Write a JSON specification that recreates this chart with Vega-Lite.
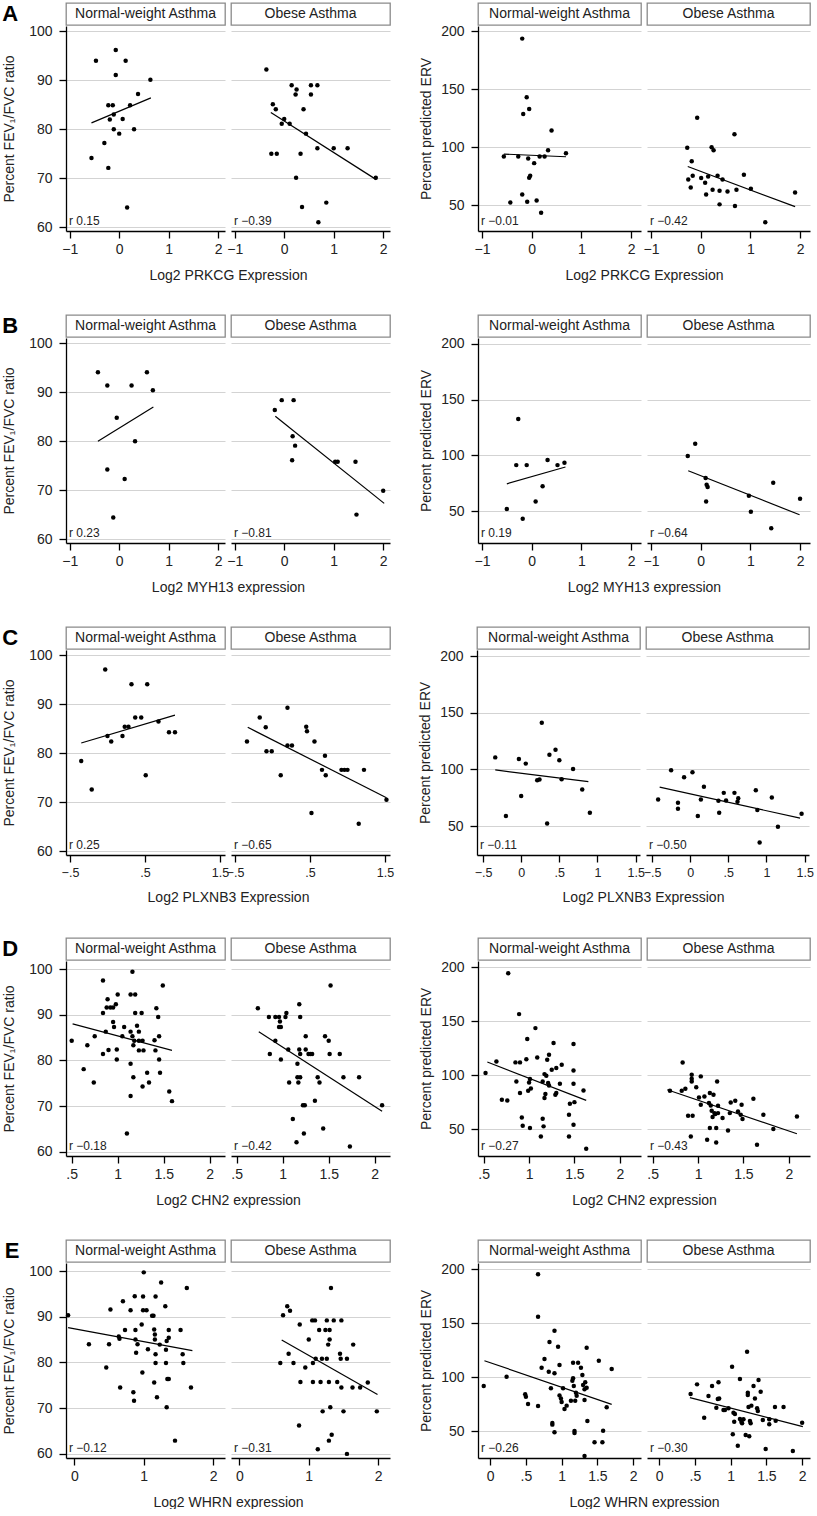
{
"$schema":"https://vega.github.io/schema/vega-lite/v6.json",
"padding":{"left":1,"top":2,"right":0,"bottom":0},
"config":{"font":"Liberation Sans","view":{"stroke":null},
 "circle":{"size":20,"color":"#000","opacity":1},
 "axis":{"labelFontSize":14,"titleFontSize":14,"titleFontWeight":"normal","labelColor":"#222","titleColor":"#222","domainColor":"#000","tickColor":"#000","domainWidth":1.3,"tickWidth":1.3,"tickSize":7,"gridColor":"#d3d3d3","gridWidth":1,"labelFlush":false,"labelOverlap":false},
 "axisX":{"grid":false,"labelPadding":4,"titlePadding":12},
 "axisY":{"grid":true,"labelPadding":7}},
"datasets":{
"hdrN":[{"label":"Normal-weight Asthma"}],
"hdrO":[{"label":"Obese Asthma"}],
"A1n":[{"x":-0.56,"y":74.1},{"x":-0.47,"y":94},{"x":-0.3,"y":77.2},{"x":-0.22,"y":84.9},{"x":-0.22,"y":72.1},{"x":-0.19,"y":82},{"x":-0.13,"y":84.9},{"x":-0.11,"y":83},{"x":-0.11,"y":80},{"x":-0.07,"y":96.2},{"x":-0.07,"y":91.1},{"x":0,"y":79.1},{"x":0.07,"y":82.1},{"x":0.13,"y":94},{"x":0.16,"y":64},{"x":0.22,"y":84.9},{"x":0.3,"y":80},{"x":0.38,"y":87.2},{"x":0.63,"y":90.1}],
"A1n_fit":[{"x":-0.56,"y":81.3},{"x":0.64,"y":86.4}],
"A1o":[{"x":-0.36,"y":92.2},{"x":-0.23,"y":85.1},{"x":-0.17,"y":84.1},{"x":-0.26,"y":75},{"x":-0.15,"y":75},{"x":0,"y":82.1},{"x":-0.05,"y":81.1},{"x":0.11,"y":81.1},{"x":0.15,"y":89},{"x":0.25,"y":88.1},{"x":0.23,"y":87.1},{"x":0.24,"y":70.1},{"x":0.33,"y":75},{"x":0.36,"y":64.1},{"x":0.39,"y":84.1},{"x":0.44,"y":79.1},{"x":0.54,"y":89},{"x":0.54,"y":87.1},{"x":0.67,"y":89},{"x":0.67,"y":76.1},{"x":0.69,"y":61},{"x":0.85,"y":65},{"x":1.0,"y":76.1},{"x":1.28,"y":76.1},{"x":1.85,"y":70.1}],
"A1o_fit":[{"x":-0.27,"y":83.4},{"x":1.86,"y":69.7}],
"A2n":[{"x":-0.56,"y":92},{"x":-0.43,"y":52.3},{"x":-0.27,"y":92},{"x":-0.19,"y":59.2},{"x":-0.19,"y":193.7},{"x":-0.17,"y":128.7},{"x":-0.1,"y":143.1},{"x":-0.09,"y":52.9},{"x":-0.07,"y":90.2},{"x":-0.05,"y":133},{"x":-0.05,"y":73.6},{"x":-0.03,"y":75.3},{"x":0.05,"y":86.2},{"x":0.1,"y":54},{"x":0.16,"y":92},{"x":0.19,"y":43.4},{"x":0.26,"y":92},{"x":0.33,"y":97.4},{"x":0.4,"y":114.4},{"x":0.69,"y":94.8}],
"A2n_fit":[{"x":-0.56,"y":94},{"x":0.69,"y":91.7}],
"A2o":[{"x":-0.27,"y":99.4},{"x":-0.25,"y":72.1},{"x":-0.2,"y":65.2},{"x":-0.18,"y":87.9},{"x":-0.16,"y":75.3},{"x":-0.07,"y":125.3},{"x":0.01,"y":73.3},{"x":0.09,"y":69.3},{"x":0.11,"y":59.2},{"x":0.15,"y":74.7},{"x":0.22,"y":100},{"x":0.24,"y":63.2},{"x":0.26,"y":97.4},{"x":0.34,"y":75.3},{"x":0.38,"y":62.4},{"x":0.38,"y":50.6},{"x":0.44,"y":72.1},{"x":0.54,"y":61.8},{"x":0.68,"y":111.2},{"x":0.69,"y":49.1},{"x":0.72,"y":63.2},{"x":0.87,"y":76.1},{"x":1.01,"y":64.1},{"x":1.3,"y":35.1},{"x":1.9,"y":60.9}],
"A2o_fit":[{"x":-0.26,"y":83.3},{"x":1.9,"y":48.6}],
"B1n":[{"x":-0.43,"y":94.1},{"x":-0.24,"y":91.4},{"x":-0.24,"y":74.2},{"x":-0.05,"y":84.8},{"x":0.25,"y":91.4},{"x":0.11,"y":72.3},{"x":0.32,"y":80},{"x":0.56,"y":94.1},{"x":0.68,"y":90.4},{"x":-0.12,"y":64.4}],
"B1n_fit":[{"x":-0.43,"y":80},{"x":0.69,"y":87}],
"B1o":[{"x":-0.19,"y":86.4},{"x":-0.05,"y":88.4},{"x":0.19,"y":88.4},{"x":0.17,"y":81},{"x":0.22,"y":79.1},{"x":0.16,"y":76.1},{"x":1.03,"y":75.8},{"x":1.08,"y":75.8},{"x":1.44,"y":75.8},{"x":2.0,"y":69.9},{"x":1.46,"y":65}],
"B1o_fit":[{"x":-0.18,"y":85.1},{"x":2.02,"y":67.3}],
"B2n":[{"x":-0.5,"y":52.1},{"x":-0.31,"y":91.4},{"x":-0.27,"y":132.6},{"x":-0.18,"y":43.4},{"x":-0.1,"y":91.4},{"x":0.08,"y":58.9},{"x":0.22,"y":72.6},{"x":0.32,"y":95.9},{"x":0.52,"y":91.4},{"x":0.66,"y":93.5}],
"B2n_fit":[{"x":-0.5,"y":74.7},{"x":0.68,"y":89.7}],
"B2o":[{"x":-0.26,"y":99.5},{"x":-0.11,"y":110.5},{"x":0.1,"y":79.8},{"x":0.12,"y":73.8},{"x":0.14,"y":71.8},{"x":0.11,"y":58.9},{"x":0.97,"y":64},{"x":1.01,"y":49.7},{"x":1.46,"y":75.6},{"x":1.42,"y":35},{"x":2.0,"y":61.3}],
"B2o_fit":[{"x":-0.25,"y":86.4},{"x":1.99,"y":47}],
"C1n":[{"x":-0.35,"y":78.4},{"x":-0.21,"y":72.6},{"x":-0.03,"y":97.1},{"x":0,"y":83.5},{"x":0.05,"y":82.4},{"x":0.2,"y":83.5},{"x":0.23,"y":85.4},{"x":0.28,"y":85.4},{"x":0.32,"y":94.1},{"x":0.37,"y":87.3},{"x":0.45,"y":87.3},{"x":0.51,"y":75.5},{"x":0.53,"y":94.1},{"x":0.68,"y":86.5},{"x":0.82,"y":84.3},{"x":0.9,"y":84.3}],
"C1n_fit":[{"x":-0.35,"y":82.1},{"x":0.9,"y":87.8}],
"C1o":[{"x":-0.34,"y":82.4},{"x":-0.17,"y":87.3},{"x":-0.09,"y":85.3},{"x":-0.08,"y":80.4},{"x":-0.01,"y":80.4},{"x":0.11,"y":75.5},{"x":0.2,"y":89.3},{"x":0.2,"y":81.6},{"x":0.26,"y":81.6},{"x":0.45,"y":85.4},{"x":0.46,"y":84.5},{"x":0.52,"y":67.8},{"x":0.56,"y":82.4},{"x":0.66,"y":76.6},{"x":0.7,"y":79.5},{"x":0.71,"y":75.5},{"x":0.92,"y":76.6},{"x":0.96,"y":76.6},{"x":1.0,"y":76.6},{"x":1.15,"y":65.6},{"x":1.22,"y":76.6},{"x":1.52,"y":70.5}],
"C1o_fit":[{"x":-0.33,"y":85.3},{"x":1.52,"y":70.9}],
"C2n":[{"x":-0.34,"y":110.6},{"x":-0.2,"y":58.8},{"x":-0.03,"y":109.2},{"x":0,"y":76.6},{"x":0.06,"y":105.1},{"x":0.21,"y":90.4},{"x":0.24,"y":91},{"x":0.27,"y":141.1},{"x":0.34,"y":52.3},{"x":0.37,"y":113},{"x":0.45,"y":117.4},{"x":0.5,"y":108},{"x":0.53,"y":91.3},{"x":0.68,"y":100.4},{"x":0.8,"y":82.2},{"x":0.9,"y":61.7}],
"C2n_fit":[{"x":-0.34,"y":99.5},{"x":0.88,"y":89.2}],
"C2o":[{"x":-0.42,"y":73.4},{"x":-0.25,"y":99.2},{"x":-0.16,"y":70.5},{"x":-0.16,"y":65.2},{"x":-0.08,"y":93.1},{"x":0.03,"y":97.5},{"x":0.1,"y":58.8},{"x":0.14,"y":73.4},{"x":0.18,"y":84.6},{"x":0.37,"y":72.3},{"x":0.38,"y":61.7},{"x":0.44,"y":79.3},{"x":0.47,"y":72.5},{"x":0.58,"y":79.3},{"x":0.62,"y":71.4},{"x":0.63,"y":74.6},{"x":0.86,"y":81.6},{"x":0.88,"y":64.1},{"x":1.07,"y":75.2},{"x":1.15,"y":49.4},{"x":1.46,"y":60.8},{"x":0.91,"y":35.6}],
"C2o_fit":[{"x":-0.4,"y":84.3},{"x":1.44,"y":57}],
"D1n":[{"x":0.5,"y":84.3},{"x":0.63,"y":78.1},{"x":0.67,"y":83.3},{"x":0.74,"y":75.2},{"x":0.75,"y":85.3},{"x":0.84,"y":97.5},{"x":0.84,"y":90.4},{"x":0.84,"y":81.4},{"x":0.87,"y":86.3},{"x":0.88,"y":91.6},{"x":0.89,"y":93.4},{"x":0.9,"y":82.3},{"x":0.92,"y":91.6},{"x":0.95,"y":91.6},{"x":0.95,"y":88.4},{"x":0.96,"y":87.3},{"x":0.98,"y":92.3},{"x":0.99,"y":82.4},{"x":0.99,"y":80.2},{"x":1.0,"y":94.4},{"x":1.05,"y":85.3},{"x":1.07,"y":87.3},{"x":1.1,"y":64},{"x":1.14,"y":72.2},{"x":1.14,"y":79.3},{"x":1.14,"y":86.3},{"x":1.16,"y":99.4},{"x":1.14,"y":94.4},{"x":1.16,"y":85.3},{"x":1.17,"y":83.3},{"x":1.17,"y":76.3},{"x":1.18,"y":84.3},{"x":1.19,"y":94.4},{"x":1.19,"y":90.4},{"x":1.21,"y":87.6},{"x":1.23,"y":86.3},{"x":1.23,"y":84.3},{"x":1.23,"y":82.2},{"x":1.26,"y":90.4},{"x":1.27,"y":84.3},{"x":1.27,"y":74.3},{"x":1.28,"y":82.2},{"x":1.32,"y":77.3},{"x":1.34,"y":75.2},{"x":1.4,"y":84.4},{"x":1.41,"y":82.2},{"x":1.42,"y":91.4},{"x":1.44,"y":89.5},{"x":1.45,"y":85.3},{"x":1.45,"y":80.2},{"x":1.46,"y":77.3},{"x":1.49,"y":96.4},{"x":1.56,"y":73.2},{"x":1.59,"y":71.1}],
"D1n_fit":[{"x":0.51,"y":88},{"x":1.59,"y":82.2}],
"D1o":[{"x":0.73,"y":91.4},{"x":0.85,"y":89.5},{"x":0.86,"y":81.4},{"x":0.92,"y":84.3},{"x":0.92,"y":89.5},{"x":0.96,"y":89.5},{"x":0.96,"y":87.3},{"x":0.97,"y":88.5},{"x":0.98,"y":87.3},{"x":0.98,"y":80.2},{"x":1.03,"y":89.5},{"x":1.04,"y":90.4},{"x":1.06,"y":82.4},{"x":1.07,"y":75.2},{"x":1.11,"y":67.2},{"x":1.15,"y":62.1},{"x":1.16,"y":79.3},{"x":1.16,"y":76.3},{"x":1.17,"y":75.2},{"x":1.18,"y":82.4},{"x":1.18,"y":92.3},{"x":1.19,"y":89.5},{"x":1.19,"y":81.4},{"x":1.19,"y":76.3},{"x":1.22,"y":70.2},{"x":1.23,"y":64},{"x":1.24,"y":70.2},{"x":1.25,"y":82.4},{"x":1.25,"y":85.3},{"x":1.28,"y":81.4},{"x":1.3,"y":81.4},{"x":1.32,"y":81.4},{"x":1.35,"y":71.2},{"x":1.38,"y":76.3},{"x":1.4,"y":75.2},{"x":1.44,"y":65.1},{"x":1.46,"y":85.3},{"x":1.5,"y":84.3},{"x":1.51,"y":81.4},{"x":1.52,"y":96.4},{"x":1.62,"y":81.4},{"x":1.66,"y":76.3},{"x":1.73,"y":61.2},{"x":1.83,"y":76.3},{"x":2.08,"y":70.2}],
"D1o_fit":[{"x":0.74,"y":86.3},{"x":2.08,"y":68.9}],
"D2n":[{"x":0.52,"y":102},{"x":0.64,"y":112.8},{"x":0.7,"y":77.2},{"x":0.76,"y":76.6},{"x":0.77,"y":194.7},{"x":0.85,"y":111.9},{"x":0.86,"y":94.2},{"x":0.89,"y":156.7},{"x":0.9,"y":111.9},{"x":0.9,"y":83.4},{"x":0.92,"y":60.8},{"x":0.93,"y":53.1},{"x":0.97,"y":114.9},{"x":0.98,"y":133.5},{"x":0.99,"y":85.6},{"x":1.0,"y":93.3},{"x":1.01,"y":96.4},{"x":1.01,"y":50.9},{"x":1.02,"y":87.7},{"x":1.07,"y":143.7},{"x":1.09,"y":116.5},{"x":1.13,"y":43.2},{"x":1.15,"y":94.2},{"x":1.15,"y":59.6},{"x":1.16,"y":52.5},{"x":1.17,"y":78.8},{"x":1.17,"y":101},{"x":1.18,"y":82.5},{"x":1.19,"y":99.5},{"x":1.2,"y":114.3},{"x":1.21,"y":92.7},{"x":1.22,"y":119},{"x":1.22,"y":90.5},{"x":1.25,"y":105},{"x":1.27,"y":129.8},{"x":1.29,"y":81.8},{"x":1.3,"y":83.4},{"x":1.3,"y":106.6},{"x":1.34,"y":92.1},{"x":1.36,"y":109.7},{"x":1.44,"y":63.3},{"x":1.44,"y":43.2},{"x":1.45,"y":73.5},{"x":1.49,"y":92.1},{"x":1.49,"y":104.4},{"x":1.49,"y":54},{"x":1.49,"y":128.9},{"x":1.5,"y":75},{"x":1.6,"y":85.9},{"x":1.63,"y":31.7}],
"D2n_fit":[{"x":0.54,"y":112.2},{"x":1.63,"y":76.6}],
"D2o":[{"x":0.69,"y":85.6},{"x":0.83,"y":111.8},{"x":0.82,"y":85.6},{"x":0.86,"y":87.4},{"x":0.89,"y":62.4},{"x":0.94,"y":62.4},{"x":0.92,"y":43.2},{"x":0.93,"y":100.4},{"x":0.93,"y":96.7},{"x":0.93,"y":94.2},{"x":0.98,"y":88.9},{"x":1.01,"y":79.4},{"x":1.03,"y":98.9},{"x":1.03,"y":72.6},{"x":1.07,"y":80.3},{"x":1.1,"y":40.1},{"x":1.12,"y":74.1},{"x":1.13,"y":83.4},{"x":1.13,"y":50.9},{"x":1.14,"y":71.9},{"x":1.15,"y":67},{"x":1.16,"y":61.1},{"x":1.17,"y":81.8},{"x":1.18,"y":64.8},{"x":1.19,"y":63.9},{"x":1.2,"y":50.9},{"x":1.2,"y":37.6},{"x":1.21,"y":94.2},{"x":1.22,"y":71.6},{"x":1.22,"y":64.8},{"x":1.27,"y":60.2},{"x":1.33,"y":48.7},{"x":1.35,"y":64.8},{"x":1.36,"y":74.7},{"x":1.41,"y":76.3},{"x":1.44,"y":66.4},{"x":1.47,"y":63.3},{"x":1.49,"y":59.3},{"x":1.48,"y":72.6},{"x":1.61,"y":78.1},{"x":1.65,"y":35.4},{"x":1.72,"y":63.3},{"x":1.83,"y":50},{"x":2.09,"y":61.7}],
"D2o_fit":[{"x":0.66,"y":86.5},{"x":2.09,"y":45.7}],
"E1n":[{"x":-0.09,"y":90.3},{"x":0.21,"y":84},{"x":0.46,"y":78.9},{"x":0.5,"y":84},{"x":0.52,"y":91.6},{"x":0.64,"y":85.7},{"x":0.65,"y":85.2},{"x":0.66,"y":74.5},{"x":0.7,"y":93.4},{"x":0.73,"y":87.1},{"x":0.81,"y":91.4},{"x":0.85,"y":73.5},{"x":0.86,"y":71.6},{"x":0.87,"y":94.5},{"x":0.88,"y":87.1},{"x":0.88,"y":85},{"x":0.89,"y":82.1},{"x":0.91,"y":84},{"x":0.97,"y":88.3},{"x":0.98,"y":77.8},{"x":0.99,"y":94.4},{"x":0.99,"y":91.4},{"x":1.0,"y":99.7},{"x":1.04,"y":91.4},{"x":1.06,"y":82.9},{"x":1.12,"y":90.2},{"x":1.14,"y":90.2},{"x":1.15,"y":87.2},{"x":1.16,"y":86.1},{"x":1.16,"y":85},{"x":1.17,"y":81.8},{"x":1.17,"y":79.9},{"x":1.17,"y":94.4},{"x":1.15,"y":75.6},{"x":1.19,"y":72.4},{"x":1.23,"y":83.9},{"x":1.25,"y":97.5},{"x":1.31,"y":92.3},{"x":1.32,"y":82.8},{"x":1.32,"y":79.9},{"x":1.33,"y":70.2},{"x":1.33,"y":84.7},{"x":1.34,"y":76.4},{"x":1.36,"y":85.4},{"x":1.36,"y":87.1},{"x":1.36,"y":76.4},{"x":1.45,"y":62.9},{"x":1.53,"y":87.1},{"x":1.56,"y":81.8},{"x":1.57,"y":79.9},{"x":1.62,"y":96.3},{"x":1.68,"y":74.5}],
"E1n_fit":[{"x":-0.09,"y":87.6},{"x":1.7,"y":82.6}],
"E1o":[{"x":0.59,"y":79.9},{"x":0.63,"y":90.3},{"x":0.69,"y":92.3},{"x":0.73,"y":91.3},{"x":0.71,"y":81.9},{"x":0.78,"y":79.9},{"x":0.87,"y":88.3},{"x":0.88,"y":75.7},{"x":0.86,"y":66.2},{"x":0.95,"y":78.9},{"x":1.0,"y":85},{"x":1.05,"y":89.2},{"x":1.09,"y":89.2},{"x":1.06,"y":79.9},{"x":1.06,"y":75.7},{"x":1.1,"y":80.8},{"x":1.13,"y":61},{"x":1.15,"y":87.1},{"x":1.17,"y":75.7},{"x":1.19,"y":80.8},{"x":1.2,"y":69.3},{"x":1.24,"y":87.1},{"x":1.26,"y":89.2},{"x":1.26,"y":80.8},{"x":1.28,"y":83.9},{"x":1.29,"y":75.7},{"x":1.3,"y":85},{"x":1.3,"y":87.1},{"x":1.29,"y":62.9},{"x":1.31,"y":70.2},{"x":1.33,"y":64.2},{"x":1.32,"y":96.3},{"x":1.36,"y":89.2},{"x":1.41,"y":75.7},{"x":1.45,"y":81.9},{"x":1.46,"y":80.8},{"x":1.47,"y":89.2},{"x":1.47,"y":74.5},{"x":1.5,"y":69.3},{"x":1.55,"y":80.8},{"x":1.55,"y":60},{"x":1.64,"y":83.9},{"x":1.63,"y":74.5},{"x":1.74,"y":74.5},{"x":1.85,"y":75.6},{"x":1.98,"y":69.3}],
"E1o_fit":[{"x":0.61,"y":84.9},{"x":1.99,"y":73}],
"E2n":[{"x":-0.09,"y":91.7},{"x":0.23,"y":100.3},{"x":0.49,"y":84},{"x":0.5,"y":81.8},{"x":0.53,"y":75},{"x":0.67,"y":73.1},{"x":0.67,"y":195.1},{"x":0.67,"y":155.9},{"x":0.72,"y":108.6},{"x":0.76,"y":116.7},{"x":0.82,"y":104.9},{"x":0.83,"y":132.4},{"x":0.85,"y":89.5},{"x":0.87,"y":57.4},{"x":0.87,"y":55.9},{"x":0.9,"y":103.4},{"x":0.9,"y":142.9},{"x":0.9,"y":48.8},{"x":0.95,"y":128.1},{"x":0.97,"y":111.1},{"x":0.97,"y":83},{"x":0.99,"y":80.2},{"x":1.0,"y":76.9},{"x":1.02,"y":89.5},{"x":1.04,"y":70.4},{"x":1.07,"y":73.5},{"x":1.13,"y":78.1},{"x":1.15,"y":96.6},{"x":1.16,"y":98.8},{"x":1.16,"y":113.3},{"x":1.17,"y":91.7},{"x":1.18,"y":50},{"x":1.18,"y":48.1},{"x":1.19,"y":78.1},{"x":1.2,"y":85.5},{"x":1.21,"y":82.7},{"x":1.23,"y":113.3},{"x":1.27,"y":108.6},{"x":1.29,"y":101.9},{"x":1.3,"y":92.6},{"x":1.32,"y":78.7},{"x":1.32,"y":88.6},{"x":1.33,"y":95.1},{"x":1.32,"y":26.9},{"x":1.35,"y":90.1},{"x":1.35,"y":127.2},{"x":1.36,"y":59.3},{"x":1.46,"y":39.5},{"x":1.52,"y":115.1},{"x":1.58,"y":50.3},{"x":1.57,"y":39.5},{"x":1.63,"y":71.9},{"x":1.7,"y":107.4}],
"E2n_fit":[{"x":-0.08,"y":115.1},{"x":1.7,"y":74.7}],
"E2o":[{"x":0.53,"y":93.2},{"x":0.44,"y":84.3},{"x":0.63,"y":62.3},{"x":0.69,"y":82.4},{"x":0.74,"y":91.7},{"x":0.83,"y":95.1},{"x":0.82,"y":79.6},{"x":0.84,"y":80.2},{"x":0.8,"y":71.6},{"x":0.9,"y":69.4},{"x":0.92,"y":69.4},{"x":0.97,"y":71},{"x":1.02,"y":109.6},{"x":1.03,"y":46.9},{"x":1.04,"y":67},{"x":1.05,"y":58.6},{"x":1.06,"y":65.7},{"x":1.1,"y":36.4},{"x":1.13,"y":98.1},{"x":1.13,"y":61.1},{"x":1.15,"y":58.6},{"x":1.16,"y":57.1},{"x":1.18,"y":60.8},{"x":1.21,"y":46.3},{"x":1.23,"y":123.5},{"x":1.24,"y":85.5},{"x":1.24,"y":83.3},{"x":1.25,"y":72.2},{"x":1.26,"y":45.1},{"x":1.27,"y":59.3},{"x":1.28,"y":57.1},{"x":1.29,"y":73.5},{"x":1.32,"y":91.7},{"x":1.34,"y":80.2},{"x":1.37,"y":71},{"x":1.38,"y":68.5},{"x":1.39,"y":97.2},{"x":1.42,"y":86.4},{"x":1.45,"y":60.2},{"x":1.49,"y":33.3},{"x":1.54,"y":60.8},{"x":1.54,"y":56.2},{"x":1.62,"y":72.2},{"x":1.63,"y":59.6},{"x":1.74,"y":72.2},{"x":1.87,"y":31.5},{"x":2.0,"y":57.7}],
"E2o_fit":[{"x":0.43,"y":80.9},{"x":2.01,"y":54}]
},
"vconcat":[
{"hconcat":[
 {"columns":2,"bounds":"flush","align":"each","spacing":{"row":1,"column":6},"concat":[
  {"width":159,"height":22,"view":{"stroke":"#8a8a8a","strokeWidth":1.3},"title":{"text":"A","orient":"left","angle":0,"fontSize":22,"fontWeight":"bold","offset":32,"anchor":"middle","align":"right","baseline":"middle","color":"#000"},"data":{"name":"hdrN"},"mark":{"type":"text","fontSize":14,"color":"#222"},"encoding":{"text":{"field":"label"}}},
  {"width":159,"height":22,"view":{"stroke":"#8a8a8a","strokeWidth":1.3},"data":{"name":"hdrO"},"mark":{"type":"text","fontSize":14,"color":"#222"},"encoding":{"text":{"field":"label"}}},
  {"width":159,"height":205,"layer":[
   {"data":{"name":"A1n"},"mark":"circle","encoding":{"x":{"field":"x","type":"quantitative","scale":{"domain":[-1.075,2.137],"nice":false,"zero":false},"axis":{"values":[-1,0,1,2],"format":"~g","labelExpr":"replace(datum.label,'0.','.')","title":"Log2 PRKCG Expression","titleX":162}},"y":{"field":"y","type":"quantitative","scale":{"domain":[59.2,101.1],"nice":false,"zero":false},"axis":{"values":[60,70,80,90,100],"title":"Percent FEV₁/FVC ratio","titlePadding":12}}}},
   {"data":{"name":"A1n_fit"},"mark":{"type":"line","color":"#000","strokeWidth":1.2},"encoding":{"x":{"field":"x","type":"quantitative"},"y":{"field":"y","type":"quantitative"}}},
   {"data":{"values":[{"r":"r 0.15"}]},"mark":{"type":"text","align":"left","baseline":"alphabetic","fontSize":12,"dx":3,"dy":-6,"color":"#222"},"encoding":{"x":{"datum":-1.075,"type":"quantitative"},"y":{"datum":59.2,"type":"quantitative"},"text":{"field":"r"}}}]},
  {"width":159,"height":205,"layer":[
   {"data":{"name":"A1o"},"mark":"circle","encoding":{"x":{"field":"x","type":"quantitative","scale":{"domain":[-1.075,2.137],"nice":false,"zero":false},"axis":{"values":[-1,0,1,2],"format":"~g","labelExpr":"replace(datum.label,'0.','.')","title":null}},"y":{"field":"y","type":"quantitative","scale":{"domain":[59.2,101.1],"nice":false,"zero":false},"axis":{"values":[60,70,80,90,100],"labels":false,"ticks":false,"domain":false,"title":null}}}},
   {"data":{"name":"A1o_fit"},"mark":{"type":"line","color":"#000","strokeWidth":1.2},"encoding":{"x":{"field":"x","type":"quantitative"},"y":{"field":"y","type":"quantitative"}}},
   {"data":{"values":[{"r":"r −0.39"}]},"mark":{"type":"text","align":"left","baseline":"alphabetic","fontSize":12,"dx":3,"dy":-6,"color":"#222"},"encoding":{"x":{"datum":-1.075,"type":"quantitative"},"y":{"datum":59.2,"type":"quantitative"},"text":{"field":"r"}}}]}
 ]},
 {"columns":2,"bounds":"flush","align":"each","spacing":{"row":1,"column":6},"concat":[
  {"width":163,"height":22,"view":{"stroke":"#8a8a8a","strokeWidth":1.3},"data":{"name":"hdrN"},"mark":{"type":"text","fontSize":14,"color":"#222"},"encoding":{"text":{"field":"label"}}},
  {"width":163,"height":22,"view":{"stroke":"#8a8a8a","strokeWidth":1.3},"data":{"name":"hdrO"},"mark":{"type":"text","fontSize":14,"color":"#222"},"encoding":{"text":{"field":"label"}}},
  {"width":163,"height":205,"layer":[
   {"data":{"name":"A2n"},"mark":"circle","encoding":{"x":{"field":"x","type":"quantitative","scale":{"domain":[-1.08,2.2],"nice":false,"zero":false},"axis":{"values":[-1,0,1,2],"format":"~g","labelExpr":"replace(datum.label,'0.','.')","title":"Log2 PRKCG Expression","titleX":166}},"y":{"field":"y","type":"quantitative","scale":{"domain":[27.6,204.6],"nice":false,"zero":false},"axis":{"values":[50,100,150,200],"title":"Percent predicted ERV","titlePadding":7}}}},
   {"data":{"name":"A2n_fit"},"mark":{"type":"line","color":"#000","strokeWidth":1.2},"encoding":{"x":{"field":"x","type":"quantitative"},"y":{"field":"y","type":"quantitative"}}},
   {"data":{"values":[{"r":"r −0.01"}]},"mark":{"type":"text","align":"left","baseline":"alphabetic","fontSize":12,"dx":3,"dy":-6,"color":"#222"},"encoding":{"x":{"datum":-1.08,"type":"quantitative"},"y":{"datum":27.6,"type":"quantitative"},"text":{"field":"r"}}}]},
  {"width":163,"height":205,"layer":[
   {"data":{"name":"A2o"},"mark":"circle","encoding":{"x":{"field":"x","type":"quantitative","scale":{"domain":[-1.08,2.2],"nice":false,"zero":false},"axis":{"values":[-1,0,1,2],"format":"~g","labelExpr":"replace(datum.label,'0.','.')","title":null}},"y":{"field":"y","type":"quantitative","scale":{"domain":[27.6,204.6],"nice":false,"zero":false},"axis":{"values":[50,100,150,200],"labels":false,"ticks":false,"domain":false,"title":null}}}},
   {"data":{"name":"A2o_fit"},"mark":{"type":"line","color":"#000","strokeWidth":1.2},"encoding":{"x":{"field":"x","type":"quantitative"},"y":{"field":"y","type":"quantitative"}}},
   {"data":{"values":[{"r":"r −0.42"}]},"mark":{"type":"text","align":"left","baseline":"alphabetic","fontSize":12,"dx":3,"dy":-6,"color":"#222"},"encoding":{"x":{"datum":-1.08,"type":"quantitative"},"y":{"datum":27.6,"type":"quantitative"},"text":{"field":"r"}}}]}
 ]}
],"spacing":28},
{"hconcat":[
 {"columns":2,"bounds":"flush","align":"each","spacing":{"row":1,"column":6},"concat":[
  {"width":159,"height":22,"view":{"stroke":"#8a8a8a","strokeWidth":1.3},"title":{"text":"B","orient":"left","angle":0,"fontSize":22,"fontWeight":"bold","offset":32,"anchor":"middle","align":"right","baseline":"middle","color":"#000"},"data":{"name":"hdrN"},"mark":{"type":"text","fontSize":14,"color":"#222"},"encoding":{"text":{"field":"label"}}},
  {"width":159,"height":22,"view":{"stroke":"#8a8a8a","strokeWidth":1.3},"data":{"name":"hdrO"},"mark":{"type":"text","fontSize":14,"color":"#222"},"encoding":{"text":{"field":"label"}}},
  {"width":159,"height":205,"layer":[
   {"data":{"name":"B1n"},"mark":"circle","encoding":{"x":{"field":"x","type":"quantitative","scale":{"domain":[-1.075,2.137],"nice":false,"zero":false},"axis":{"values":[-1,0,1,2],"format":"~g","labelExpr":"replace(datum.label,'0.','.')","title":"Log2 MYH13 expression","titleX":162}},"y":{"field":"y","type":"quantitative","scale":{"domain":[59.2,101.1],"nice":false,"zero":false},"axis":{"values":[60,70,80,90,100],"title":"Percent FEV₁/FVC ratio","titlePadding":12}}}},
   {"data":{"name":"B1n_fit"},"mark":{"type":"line","color":"#000","strokeWidth":1.2},"encoding":{"x":{"field":"x","type":"quantitative"},"y":{"field":"y","type":"quantitative"}}},
   {"data":{"values":[{"r":"r 0.23"}]},"mark":{"type":"text","align":"left","baseline":"alphabetic","fontSize":12,"dx":3,"dy":-6,"color":"#222"},"encoding":{"x":{"datum":-1.075,"type":"quantitative"},"y":{"datum":59.2,"type":"quantitative"},"text":{"field":"r"}}}]},
  {"width":159,"height":205,"layer":[
   {"data":{"name":"B1o"},"mark":"circle","encoding":{"x":{"field":"x","type":"quantitative","scale":{"domain":[-1.075,2.137],"nice":false,"zero":false},"axis":{"values":[-1,0,1,2],"format":"~g","labelExpr":"replace(datum.label,'0.','.')","title":null}},"y":{"field":"y","type":"quantitative","scale":{"domain":[59.2,101.1],"nice":false,"zero":false},"axis":{"values":[60,70,80,90,100],"labels":false,"ticks":false,"domain":false,"title":null}}}},
   {"data":{"name":"B1o_fit"},"mark":{"type":"line","color":"#000","strokeWidth":1.2},"encoding":{"x":{"field":"x","type":"quantitative"},"y":{"field":"y","type":"quantitative"}}},
   {"data":{"values":[{"r":"r −0.81"}]},"mark":{"type":"text","align":"left","baseline":"alphabetic","fontSize":12,"dx":3,"dy":-6,"color":"#222"},"encoding":{"x":{"datum":-1.075,"type":"quantitative"},"y":{"datum":59.2,"type":"quantitative"},"text":{"field":"r"}}}]}
 ]},
 {"columns":2,"bounds":"flush","align":"each","spacing":{"row":1,"column":6},"concat":[
  {"width":163,"height":22,"view":{"stroke":"#8a8a8a","strokeWidth":1.3},"data":{"name":"hdrN"},"mark":{"type":"text","fontSize":14,"color":"#222"},"encoding":{"text":{"field":"label"}}},
  {"width":163,"height":22,"view":{"stroke":"#8a8a8a","strokeWidth":1.3},"data":{"name":"hdrO"},"mark":{"type":"text","fontSize":14,"color":"#222"},"encoding":{"text":{"field":"label"}}},
  {"width":163,"height":205,"layer":[
   {"data":{"name":"B2n"},"mark":"circle","encoding":{"x":{"field":"x","type":"quantitative","scale":{"domain":[-1.08,2.2],"nice":false,"zero":false},"axis":{"values":[-1,0,1,2],"format":"~g","labelExpr":"replace(datum.label,'0.','.')","title":"Log2 MYH13 expression","titleX":166}},"y":{"field":"y","type":"quantitative","scale":{"domain":[21.8,205],"nice":false,"zero":false},"axis":{"values":[50,100,150,200],"title":"Percent predicted ERV","titlePadding":7}}}},
   {"data":{"name":"B2n_fit"},"mark":{"type":"line","color":"#000","strokeWidth":1.2},"encoding":{"x":{"field":"x","type":"quantitative"},"y":{"field":"y","type":"quantitative"}}},
   {"data":{"values":[{"r":"r 0.19"}]},"mark":{"type":"text","align":"left","baseline":"alphabetic","fontSize":12,"dx":3,"dy":-6,"color":"#222"},"encoding":{"x":{"datum":-1.08,"type":"quantitative"},"y":{"datum":21.8,"type":"quantitative"},"text":{"field":"r"}}}]},
  {"width":163,"height":205,"layer":[
   {"data":{"name":"B2o"},"mark":"circle","encoding":{"x":{"field":"x","type":"quantitative","scale":{"domain":[-1.08,2.2],"nice":false,"zero":false},"axis":{"values":[-1,0,1,2],"format":"~g","labelExpr":"replace(datum.label,'0.','.')","title":null}},"y":{"field":"y","type":"quantitative","scale":{"domain":[21.8,205],"nice":false,"zero":false},"axis":{"values":[50,100,150,200],"labels":false,"ticks":false,"domain":false,"title":null}}}},
   {"data":{"name":"B2o_fit"},"mark":{"type":"line","color":"#000","strokeWidth":1.2},"encoding":{"x":{"field":"x","type":"quantitative"},"y":{"field":"y","type":"quantitative"}}},
   {"data":{"values":[{"r":"r −0.64"}]},"mark":{"type":"text","align":"left","baseline":"alphabetic","fontSize":12,"dx":3,"dy":-6,"color":"#222"},"encoding":{"x":{"datum":-1.08,"type":"quantitative"},"y":{"datum":21.8,"type":"quantitative"},"text":{"field":"r"}}}]}
 ]}
],"spacing":28},
{"hconcat":[
 {"columns":2,"bounds":"flush","align":"each","spacing":{"row":1,"column":6},"concat":[
  {"width":159,"height":22,"view":{"stroke":"#8a8a8a","strokeWidth":1.3},"title":{"text":"C","orient":"left","angle":0,"fontSize":22,"fontWeight":"bold","offset":32,"anchor":"middle","align":"right","baseline":"middle","color":"#000"},"data":{"name":"hdrN"},"mark":{"type":"text","fontSize":14,"color":"#222"},"encoding":{"text":{"field":"label"}}},
  {"width":159,"height":22,"view":{"stroke":"#8a8a8a","strokeWidth":1.3},"data":{"name":"hdrO"},"mark":{"type":"text","fontSize":14,"color":"#222"},"encoding":{"text":{"field":"label"}}},
  {"width":159,"height":205,"layer":[
   {"data":{"name":"C1n"},"mark":"circle","encoding":{"x":{"field":"x","type":"quantitative","scale":{"domain":[-0.553,1.567],"nice":false,"zero":false},"axis":{"values":[-0.5,0,0.5,1,1.5],"format":"~g","labelExpr":"replace(datum.label,'0.','.')","labelFontSize":12.5,"title":"Log2 PLXNB3 Expression","titleX":162}},"y":{"field":"y","type":"quantitative","scale":{"domain":[59.2,101.1],"nice":false,"zero":false},"axis":{"values":[60,70,80,90,100],"title":"Percent FEV₁/FVC ratio","titlePadding":12}}}},
   {"data":{"name":"C1n_fit"},"mark":{"type":"line","color":"#000","strokeWidth":1.2},"encoding":{"x":{"field":"x","type":"quantitative"},"y":{"field":"y","type":"quantitative"}}},
   {"data":{"values":[{"r":"r 0.25"}]},"mark":{"type":"text","align":"left","baseline":"alphabetic","fontSize":12,"dx":3,"dy":-6,"color":"#222"},"encoding":{"x":{"datum":-0.553,"type":"quantitative"},"y":{"datum":59.2,"type":"quantitative"},"text":{"field":"r"}}}]},
  {"width":159,"height":205,"layer":[
   {"data":{"name":"C1o"},"mark":"circle","encoding":{"x":{"field":"x","type":"quantitative","scale":{"domain":[-0.553,1.567],"nice":false,"zero":false},"axis":{"values":[-0.5,0,0.5,1,1.5],"format":"~g","labelExpr":"replace(datum.label,'0.','.')","labelFontSize":12.5,"title":null}},"y":{"field":"y","type":"quantitative","scale":{"domain":[59.2,101.1],"nice":false,"zero":false},"axis":{"values":[60,70,80,90,100],"labels":false,"ticks":false,"domain":false,"title":null}}}},
   {"data":{"name":"C1o_fit"},"mark":{"type":"line","color":"#000","strokeWidth":1.2},"encoding":{"x":{"field":"x","type":"quantitative"},"y":{"field":"y","type":"quantitative"}}},
   {"data":{"values":[{"r":"r −0.65"}]},"mark":{"type":"text","align":"left","baseline":"alphabetic","fontSize":12,"dx":3,"dy":-6,"color":"#222"},"encoding":{"x":{"datum":-0.553,"type":"quantitative"},"y":{"datum":59.2,"type":"quantitative"},"text":{"field":"r"}}}]}
 ]},
 {"columns":2,"bounds":"flush","align":"each","spacing":{"row":1,"column":6},"concat":[
  {"width":163,"height":22,"view":{"stroke":"#8a8a8a","strokeWidth":1.3},"data":{"name":"hdrN"},"mark":{"type":"text","fontSize":14,"color":"#222"},"encoding":{"text":{"field":"label"}}},
  {"width":163,"height":22,"view":{"stroke":"#8a8a8a","strokeWidth":1.3},"data":{"name":"hdrO"},"mark":{"type":"text","fontSize":14,"color":"#222"},"encoding":{"text":{"field":"label"}}},
  {"width":163,"height":205,"layer":[
   {"data":{"name":"C2n"},"mark":"circle","encoding":{"x":{"field":"x","type":"quantitative","scale":{"domain":[-0.579,1.557],"nice":false,"zero":false},"axis":{"values":[-0.5,0,0.5,1,1.5],"format":"~g","labelExpr":"replace(datum.label,'0.','.')","labelFontSize":12.5,"title":"Log2 PLXNB3 Expression","titleX":166}},"y":{"field":"y","type":"quantitative","scale":{"domain":[24.5,205.3],"nice":false,"zero":false},"axis":{"values":[50,100,150,200],"title":"Percent predicted ERV","titlePadding":7}}}},
   {"data":{"name":"C2n_fit"},"mark":{"type":"line","color":"#000","strokeWidth":1.2},"encoding":{"x":{"field":"x","type":"quantitative"},"y":{"field":"y","type":"quantitative"}}},
   {"data":{"values":[{"r":"r −0.11"}]},"mark":{"type":"text","align":"left","baseline":"alphabetic","fontSize":12,"dx":3,"dy":-6,"color":"#222"},"encoding":{"x":{"datum":-0.579,"type":"quantitative"},"y":{"datum":24.5,"type":"quantitative"},"text":{"field":"r"}}}]},
  {"width":163,"height":205,"layer":[
   {"data":{"name":"C2o"},"mark":"circle","encoding":{"x":{"field":"x","type":"quantitative","scale":{"domain":[-0.579,1.557],"nice":false,"zero":false},"axis":{"values":[-0.5,0,0.5,1,1.5],"format":"~g","labelExpr":"replace(datum.label,'0.','.')","labelFontSize":12.5,"title":null}},"y":{"field":"y","type":"quantitative","scale":{"domain":[24.5,205.3],"nice":false,"zero":false},"axis":{"values":[50,100,150,200],"labels":false,"ticks":false,"domain":false,"title":null}}}},
   {"data":{"name":"C2o_fit"},"mark":{"type":"line","color":"#000","strokeWidth":1.2},"encoding":{"x":{"field":"x","type":"quantitative"},"y":{"field":"y","type":"quantitative"}}},
   {"data":{"values":[{"r":"r −0.50"}]},"mark":{"type":"text","align":"left","baseline":"alphabetic","fontSize":12,"dx":3,"dy":-6,"color":"#222"},"encoding":{"x":{"datum":-0.579,"type":"quantitative"},"y":{"datum":24.5,"type":"quantitative"},"text":{"field":"r"}}}]}
 ]}
],"spacing":24},
{"hconcat":[
 {"columns":2,"bounds":"flush","align":"each","spacing":{"row":1,"column":6},"concat":[
  {"width":159,"height":22,"view":{"stroke":"#8a8a8a","strokeWidth":1.3},"title":{"text":"D","orient":"left","angle":0,"fontSize":22,"fontWeight":"bold","offset":32,"anchor":"middle","align":"right","baseline":"middle","color":"#000"},"data":{"name":"hdrN"},"mark":{"type":"text","fontSize":14,"color":"#222"},"encoding":{"text":{"field":"label"}}},
  {"width":159,"height":22,"view":{"stroke":"#8a8a8a","strokeWidth":1.3},"data":{"name":"hdrO"},"mark":{"type":"text","fontSize":14,"color":"#222"},"encoding":{"text":{"field":"label"}}},
  {"width":159,"height":195,"layer":[
   {"data":{"name":"D1n"},"mark":"circle","encoding":{"x":{"field":"x","type":"quantitative","scale":{"domain":[0.438,2.166],"nice":false,"zero":false},"axis":{"values":[0.5,1,1.5,2],"format":"~g","labelExpr":"replace(datum.label,'0.','.')","title":"Log2 CHN2 expression","titleX":162}},"y":{"field":"y","type":"quantitative","scale":{"domain":[59.1,101.75],"nice":false,"zero":false},"axis":{"values":[60,70,80,90,100],"title":"Percent FEV₁/FVC ratio","titlePadding":12}}}},
   {"data":{"name":"D1n_fit"},"mark":{"type":"line","color":"#000","strokeWidth":1.2},"encoding":{"x":{"field":"x","type":"quantitative"},"y":{"field":"y","type":"quantitative"}}},
   {"data":{"values":[{"r":"r −0.18"}]},"mark":{"type":"text","align":"left","baseline":"alphabetic","fontSize":12,"dx":3,"dy":-6,"color":"#222"},"encoding":{"x":{"datum":0.438,"type":"quantitative"},"y":{"datum":59.1,"type":"quantitative"},"text":{"field":"r"}}}]},
  {"width":159,"height":195,"layer":[
   {"data":{"name":"D1o"},"mark":"circle","encoding":{"x":{"field":"x","type":"quantitative","scale":{"domain":[0.438,2.166],"nice":false,"zero":false},"axis":{"values":[0.5,1,1.5,2],"format":"~g","labelExpr":"replace(datum.label,'0.','.')","title":null}},"y":{"field":"y","type":"quantitative","scale":{"domain":[59.1,101.75],"nice":false,"zero":false},"axis":{"values":[60,70,80,90,100],"labels":false,"ticks":false,"domain":false,"title":null}}}},
   {"data":{"name":"D1o_fit"},"mark":{"type":"line","color":"#000","strokeWidth":1.2},"encoding":{"x":{"field":"x","type":"quantitative"},"y":{"field":"y","type":"quantitative"}}},
   {"data":{"values":[{"r":"r −0.42"}]},"mark":{"type":"text","align":"left","baseline":"alphabetic","fontSize":12,"dx":3,"dy":-6,"color":"#222"},"encoding":{"x":{"datum":0.438,"type":"quantitative"},"y":{"datum":59.1,"type":"quantitative"},"text":{"field":"r"}}}]}
 ]},
 {"columns":2,"bounds":"flush","align":"each","spacing":{"row":1,"column":6},"concat":[
  {"width":163,"height":22,"view":{"stroke":"#8a8a8a","strokeWidth":1.3},"data":{"name":"hdrN"},"mark":{"type":"text","fontSize":14,"color":"#222"},"encoding":{"text":{"field":"label"}}},
  {"width":163,"height":22,"view":{"stroke":"#8a8a8a","strokeWidth":1.3},"data":{"name":"hdrO"},"mark":{"type":"text","fontSize":14,"color":"#222"},"encoding":{"text":{"field":"label"}}},
  {"width":163,"height":195,"layer":[
   {"data":{"name":"D2n"},"mark":"circle","encoding":{"x":{"field":"x","type":"quantitative","scale":{"domain":[0.437,2.234],"nice":false,"zero":false},"axis":{"values":[0.5,1,1.5,2],"format":"~g","labelExpr":"replace(datum.label,'0.','.')","title":"Log2 CHN2 expression","titleX":166}},"y":{"field":"y","type":"quantitative","scale":{"domain":[25,206],"nice":false,"zero":false},"axis":{"values":[50,100,150,200],"title":"Percent predicted ERV","titlePadding":7}}}},
   {"data":{"name":"D2n_fit"},"mark":{"type":"line","color":"#000","strokeWidth":1.2},"encoding":{"x":{"field":"x","type":"quantitative"},"y":{"field":"y","type":"quantitative"}}},
   {"data":{"values":[{"r":"r −0.27"}]},"mark":{"type":"text","align":"left","baseline":"alphabetic","fontSize":12,"dx":3,"dy":-6,"color":"#222"},"encoding":{"x":{"datum":0.437,"type":"quantitative"},"y":{"datum":25,"type":"quantitative"},"text":{"field":"r"}}}]},
  {"width":163,"height":195,"layer":[
   {"data":{"name":"D2o"},"mark":"circle","encoding":{"x":{"field":"x","type":"quantitative","scale":{"domain":[0.437,2.234],"nice":false,"zero":false},"axis":{"values":[0.5,1,1.5,2],"format":"~g","labelExpr":"replace(datum.label,'0.','.')","title":null}},"y":{"field":"y","type":"quantitative","scale":{"domain":[25,206],"nice":false,"zero":false},"axis":{"values":[50,100,150,200],"labels":false,"ticks":false,"domain":false,"title":null}}}},
   {"data":{"name":"D2o_fit"},"mark":{"type":"line","color":"#000","strokeWidth":1.2},"encoding":{"x":{"field":"x","type":"quantitative"},"y":{"field":"y","type":"quantitative"}}},
   {"data":{"values":[{"r":"r −0.43"}]},"mark":{"type":"text","align":"left","baseline":"alphabetic","fontSize":12,"dx":3,"dy":-6,"color":"#222"},"encoding":{"x":{"datum":0.437,"type":"quantitative"},"y":{"datum":25,"type":"quantitative"},"text":{"field":"r"}}}]}
 ]}
],"spacing":28},
{"hconcat":[
 {"columns":2,"bounds":"flush","align":"each","spacing":{"row":1,"column":6},"concat":[
  {"width":159,"height":22,"view":{"stroke":"#8a8a8a","strokeWidth":1.3},"title":{"text":"E","orient":"left","angle":0,"fontSize":22,"fontWeight":"bold","offset":32,"anchor":"middle","align":"right","baseline":"middle","color":"#000"},"data":{"name":"hdrN"},"mark":{"type":"text","fontSize":14,"color":"#222"},"encoding":{"text":{"field":"label"}}},
  {"width":159,"height":22,"view":{"stroke":"#8a8a8a","strokeWidth":1.3},"data":{"name":"hdrO"},"mark":{"type":"text","fontSize":14,"color":"#222"},"encoding":{"text":{"field":"label"}}},
  {"width":159,"height":195,"layer":[
   {"data":{"name":"E1n"},"mark":"circle","encoding":{"x":{"field":"x","type":"quantitative","scale":{"domain":[-0.12,2.17],"nice":false,"zero":false},"axis":{"values":[0,0.5,1,1.5,2],"format":"~g","labelExpr":"replace(datum.label,'0.','.')","title":"Log2 WHRN expression","titleX":162}},"y":{"field":"y","type":"quantitative","scale":{"domain":[59.1,101.75],"nice":false,"zero":false},"axis":{"values":[60,70,80,90,100],"title":"Percent FEV₁/FVC ratio","titlePadding":12}}}},
   {"data":{"name":"E1n_fit"},"mark":{"type":"line","color":"#000","strokeWidth":1.2},"encoding":{"x":{"field":"x","type":"quantitative"},"y":{"field":"y","type":"quantitative"}}},
   {"data":{"values":[{"r":"r −0.12"}]},"mark":{"type":"text","align":"left","baseline":"alphabetic","fontSize":12,"dx":3,"dy":-6,"color":"#222"},"encoding":{"x":{"datum":-0.12,"type":"quantitative"},"y":{"datum":59.1,"type":"quantitative"},"text":{"field":"r"}}}]},
  {"width":159,"height":195,"layer":[
   {"data":{"name":"E1o"},"mark":"circle","encoding":{"x":{"field":"x","type":"quantitative","scale":{"domain":[-0.12,2.17],"nice":false,"zero":false},"axis":{"values":[0,0.5,1,1.5,2],"format":"~g","labelExpr":"replace(datum.label,'0.','.')","title":null}},"y":{"field":"y","type":"quantitative","scale":{"domain":[59.1,101.75],"nice":false,"zero":false},"axis":{"values":[60,70,80,90,100],"labels":false,"ticks":false,"domain":false,"title":null}}}},
   {"data":{"name":"E1o_fit"},"mark":{"type":"line","color":"#000","strokeWidth":1.2},"encoding":{"x":{"field":"x","type":"quantitative"},"y":{"field":"y","type":"quantitative"}}},
   {"data":{"values":[{"r":"r −0.31"}]},"mark":{"type":"text","align":"left","baseline":"alphabetic","fontSize":12,"dx":3,"dy":-6,"color":"#222"},"encoding":{"x":{"datum":-0.12,"type":"quantitative"},"y":{"datum":59.1,"type":"quantitative"},"text":{"field":"r"}}}]}
 ]},
 {"columns":2,"bounds":"flush","align":"each","spacing":{"row":1,"column":6},"concat":[
  {"width":163,"height":22,"view":{"stroke":"#8a8a8a","strokeWidth":1.3},"data":{"name":"hdrN"},"mark":{"type":"text","fontSize":14,"color":"#222"},"encoding":{"text":{"field":"label"}}},
  {"width":163,"height":22,"view":{"stroke":"#8a8a8a","strokeWidth":1.3},"data":{"name":"hdrO"},"mark":{"type":"text","fontSize":14,"color":"#222"},"encoding":{"text":{"field":"label"}}},
  {"width":163,"height":195,"layer":[
   {"data":{"name":"E2n"},"mark":"circle","encoding":{"x":{"field":"x","type":"quantitative","scale":{"domain":[-0.17,2.11],"nice":false,"zero":false},"axis":{"values":[0,0.5,1,1.5,2],"format":"~g","labelExpr":"replace(datum.label,'0.','.')","title":"Log2 WHRN expression","titleX":166}},"y":{"field":"y","type":"quantitative","scale":{"domain":[25,205.6],"nice":false,"zero":false},"axis":{"values":[50,100,150,200],"title":"Percent predicted ERV","titlePadding":7}}}},
   {"data":{"name":"E2n_fit"},"mark":{"type":"line","color":"#000","strokeWidth":1.2},"encoding":{"x":{"field":"x","type":"quantitative"},"y":{"field":"y","type":"quantitative"}}},
   {"data":{"values":[{"r":"r −0.26"}]},"mark":{"type":"text","align":"left","baseline":"alphabetic","fontSize":12,"dx":3,"dy":-6,"color":"#222"},"encoding":{"x":{"datum":-0.17,"type":"quantitative"},"y":{"datum":25,"type":"quantitative"},"text":{"field":"r"}}}]},
  {"width":163,"height":195,"layer":[
   {"data":{"name":"E2o"},"mark":"circle","encoding":{"x":{"field":"x","type":"quantitative","scale":{"domain":[-0.17,2.11],"nice":false,"zero":false},"axis":{"values":[0,0.5,1,1.5,2],"format":"~g","labelExpr":"replace(datum.label,'0.','.')","title":null}},"y":{"field":"y","type":"quantitative","scale":{"domain":[25,205.6],"nice":false,"zero":false},"axis":{"values":[50,100,150,200],"labels":false,"ticks":false,"domain":false,"title":null}}}},
   {"data":{"name":"E2o_fit"},"mark":{"type":"line","color":"#000","strokeWidth":1.2},"encoding":{"x":{"field":"x","type":"quantitative"},"y":{"field":"y","type":"quantitative"}}},
   {"data":{"values":[{"r":"r −0.30"}]},"mark":{"type":"text","align":"left","baseline":"alphabetic","fontSize":12,"dx":3,"dy":-6,"color":"#222"},"encoding":{"x":{"datum":-0.17,"type":"quantitative"},"y":{"datum":25,"type":"quantitative"},"text":{"field":"r"}}}]}
 ]}
],"spacing":28}
],"spacing":32}
